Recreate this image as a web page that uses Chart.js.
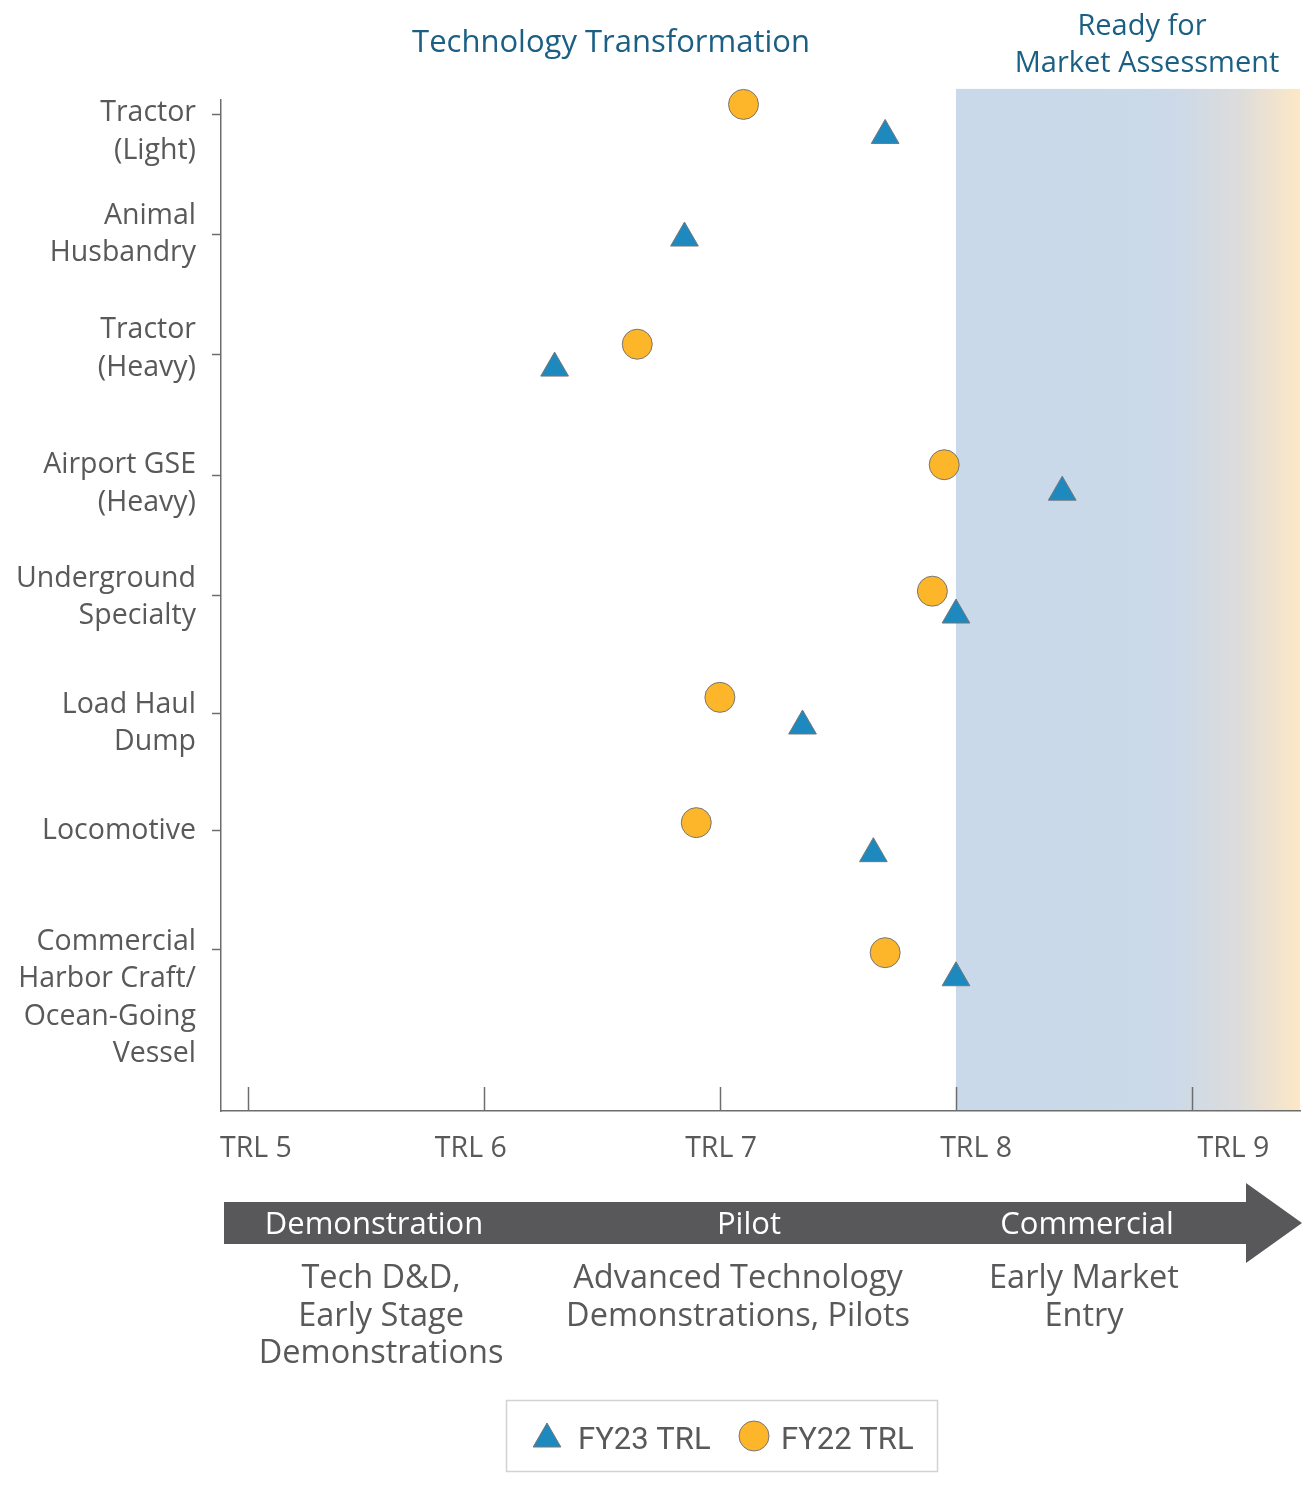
<!DOCTYPE html>
<html>
<head>
<meta charset="utf-8">
<title>Technology Readiness by Application</title>
<style>
  html, body { margin: 0; padding: 0; background: #ffffff; }
  #wrap { width: 1304px; height: 1486px; position: relative; }
  canvas { display: block; }
</style>
<script src="https://cdn.jsdelivr.net/npm/chart.js@4.4.1/dist/chart.umd.min.js"></script>
</head>
<body>
<div id="wrap"><canvas id="trlChart" width="1304" height="1486"></canvas></div>
<script>
// ---- data ----------------------------------------------------------------
const categories = [
  ["Tractor", "(Light)"],
  ["Animal", "Husbandry"],
  ["Tractor", "(Heavy)"],
  ["Airport GSE", "(Heavy)"],
  ["Underground", "Specialty"],
  ["Load Haul", "Dump"],
  ["Locomotive"],
  ["Commercial", "Harbor Craft/", "Ocean-Going", "Vessel"]
];
const fy23TRL = [7.70, 6.85, 6.30, 8.45, 8.00, 7.35, 7.65, 8.00];
const fy22TRL = [7.10, null, 6.65, 7.95, 7.90, 7.00, 6.90, 7.70];
// vertical placement of each marker inside its category row (row units, row 0 at top)
const fy23Row = [0.18, 1.04, 2.13, 3.17, 4.20, 5.13, 6.20, 7.24];
const fy22Row = [-0.08, null, 1.93, 2.94, 4.00, 4.89, 5.94, 7.03];
const rowTicks = [0, 1.01, 2.01, 3.03, 4.03, 5.02, 6.00, 7.00];
const rowLabelCenter = [0.13, 0.99, 1.95, 3.08, 4.03, 5.09, 5.99, 7.39];
const trlTicks = [5, 6, 7, 8, 9];
const trlTickLabels = ["TRL 5", "TRL 6", "TRL 7", "TRL 8", "TRL 9"];
const trlLabelAt = [5.035, 5.945, 7.005, 8.085, 9.175];
const marketFrom = 8;               // TRL where the market-assessment zone begins
const stages = ["Demonstration", "Pilot", "Commercial"];
const stageAt = [5.535, 7.123, 8.555];
const stageNotes = [
  ["Tech D&D,", "Early Stage", "Demonstrations"],
  ["Advanced Technology", "Demonstrations, Pilots"],
  ["Early Market", "Entry"]
];
const stageNoteAt = [5.565, 7.077, 8.542];
const seriesNames = ["FY23 TRL", "FY22 TRL"];

// ---- styling -------------------------------------------------------------
const FONT = "'Open Sans', 'Noto Sans', sans-serif";
const GREY_TEXT = "#59595b";
const AXIS = "#6d6d6d";
const TITLE_BLUE = "#1b5f84";
const BLUE = "#1e89be";
const GOLD = "#fdb52a";
const MARK_EDGE = "#767676";

function points(xs, ys) {
  const out = [];
  xs.forEach((x, i) => { if (x !== null && ys[i] !== null) out.push({ x: x, y: ys[i] }); });
  return out;
}

// shaded zone behind the plot
const zonePlugin = {
  id: "zone",
  beforeDraw(chart) {
    const { ctx, chartArea, scales } = chart;
    const x0 = scales.x.getPixelForValue(marketFrom);
    const x1 = chartArea.right;
    const y0 = scales.y.getPixelForValue(-0.21);
    const y1 = chartArea.bottom;
    const g = ctx.createLinearGradient(x0, 0, x1, 0);
    g.addColorStop(0, "#c9d9ea");
    g.addColorStop(0.63, "#cbd9e8");
    g.addColorStop(0.82, "#dcdcdc");
    g.addColorStop(1, "#fde8c6");
    ctx.save();
    ctx.fillStyle = g;
    ctx.fillRect(x0, y0, x1 - x0, y1 - y0);
    ctx.restore();
  }
};

// ticks, labels, titles, stage arrow and legend
const decorPlugin = {
  id: "decor",
  afterDraw(chart) {
    const { ctx, chartArea, scales } = chart;
    const xs = scales.x, ys = scales.y;
    ctx.save();

    // inward ticks on the TRL axis
    ctx.strokeStyle = AXIS;
    ctx.lineWidth = 1.5;
    trlTicks.forEach(v => {
      const px = Math.round(xs.getPixelForValue(v)) + 0.5;
      ctx.beginPath();
      ctx.moveTo(px, chartArea.bottom);
      ctx.lineTo(px, chartArea.bottom - 24);
      ctx.stroke();
    });
    // outward ticks on the category axis
    rowTicks.forEach(v => {
      const py = Math.round(ys.getPixelForValue(v)) + 0.5;
      ctx.beginPath();
      ctx.moveTo(chartArea.left, py);
      ctx.lineTo(chartArea.left - 9, py);
      ctx.stroke();
    });

    // TRL tick labels
    ctx.fillStyle = GREY_TEXT;
    ctx.font = "28.5px " + FONT;
    ctx.textAlign = "center";
    ctx.textBaseline = "alphabetic";
    trlTickLabels.forEach((t, i) => {
      ctx.fillText(t, xs.getPixelForValue(trlLabelAt[i]), chartArea.bottom + 46);
    });

    // category labels
    ctx.textAlign = "right";
    const lh = 37.5;
    categories.forEach((lines, i) => {
      const cy = ys.getPixelForValue(rowLabelCenter[i]);
      lines.forEach((t, j) => {
        const ly = cy + (j - (lines.length - 1) / 2) * lh + 10.5;
        ctx.fillText(t, chartArea.left - 25, ly);
      });
    });

    // zone titles
    ctx.fillStyle = TITLE_BLUE;
    ctx.textAlign = "center";
    ctx.font = "31px " + FONT;
    ctx.fillText("Technology Transformation", 611, 52);
    ctx.font = "29px " + FONT;
    ctx.fillText("Ready for", 1142, 35);
    ctx.fillText("Market Assessment", 1147, 72);

    // stage arrow
    const aL = chartArea.left + 3, aTip = chartArea.right + 2;
    const aTop = chartArea.bottom + 91, aBot = chartArea.bottom + 133;
    const aMid = (aTop + aBot) / 2;
    const headBase = aTip - 56;
    ctx.fillStyle = "#58585a";
    ctx.beginPath();
    ctx.moveTo(aL, aTop);
    ctx.lineTo(headBase, aTop);
    ctx.lineTo(headBase, aMid - 40);
    ctx.lineTo(aTip, aMid);
    ctx.lineTo(headBase, aMid + 40);
    ctx.lineTo(headBase, aBot);
    ctx.lineTo(aL, aBot);
    ctx.closePath();
    ctx.fill();

    ctx.fillStyle = "#ffffff";
    ctx.font = "31px " + FONT;
    stages.forEach((t, i) => {
      ctx.fillText(t, xs.getPixelForValue(stageAt[i]), aMid + 10.5);
    });

    ctx.fillStyle = GREY_TEXT;
    ctx.font = "32.5px " + FONT;
    stageNotes.forEach((lines, i) => {
      const cx = xs.getPixelForValue(stageNoteAt[i]);
      lines.forEach((t, j) => {
        ctx.fillText(t, cx, aBot + 44 + j * 37.5);
      });
    });

    // legend
    const lgX = 506.5, lgY = 1400.5, lgW = 431, lgH = 71;
    ctx.strokeStyle = "#d3d3d3";
    ctx.lineWidth = 1.5;
    ctx.strokeRect(lgX, lgY, lgW, lgH);
    const ds = chart.data.datasets;
    const items = [
      { d: ds[0], mx: 547, my: 1439, tx: 578 },
      { d: ds[1], mx: 754, my: 1436, tx: 781 }
    ];
    items.forEach(it => {
      ctx.fillStyle = it.d.backgroundColor;
      ctx.strokeStyle = it.d.borderColor;
      ctx.lineWidth = it.d.borderWidth;
      Chart.helpers.drawPoint(ctx, {
        pointStyle: it.d.pointStyle, radius: it.d.pointRadius,
        borderWidth: it.d.borderWidth, rotation: 0
      }, it.mx, it.my);
      ctx.fillStyle = GREY_TEXT;
      ctx.font = "31px Roboto, 'Liberation Sans', sans-serif";
      ctx.textAlign = "left";
      ctx.fillText(it.d.label, it.tx, 1449);
    });

    ctx.restore();
  }
};

new Chart(document.getElementById("trlChart"), {
  type: "scatter",
  data: {
    datasets: [
      {
        label: seriesNames[0],
        data: points(fy23TRL, fy23Row),
        pointStyle: "triangle",
        pointRadius: 16,
        backgroundColor: BLUE,
        borderColor: MARK_EDGE,
        borderWidth: 1,
        clip: false
      },
      {
        label: seriesNames[1],
        data: points(fy22TRL, fy22Row),
        pointStyle: "circle",
        pointRadius: 15,
        backgroundColor: GOLD,
        borderColor: MARK_EDGE,
        borderWidth: 1,
        clip: false
      }
    ]
  },
  options: {
    responsive: false,
    animation: false,
    events: [],
    layout: { autoPadding: false, padding: { left: 221, top: 100, right: 4, bottom: 375 } },
    plugins: { legend: { display: false }, tooltip: { enabled: false } },
    scales: {
      x: {
        type: "linear",
        min: 4.887,
        max: 9.457,
        grid: { display: false, drawTicks: false },
        ticks: { display: false },
        border: { display: true, color: AXIS, width: 1.5 },
        afterFit(s) { s.height = 0; }
      },
      y: {
        type: "linear",
        reverse: true,
        min: -0.117,
        max: 8.357,
        grid: { display: false, drawTicks: false },
        ticks: { display: false },
        border: { display: true, color: AXIS, width: 1.5 },
        afterFit(s) { s.width = 0; }
      }
    }
  },
  plugins: [zonePlugin, decorPlugin]
});
</script>
</body>
</html>
